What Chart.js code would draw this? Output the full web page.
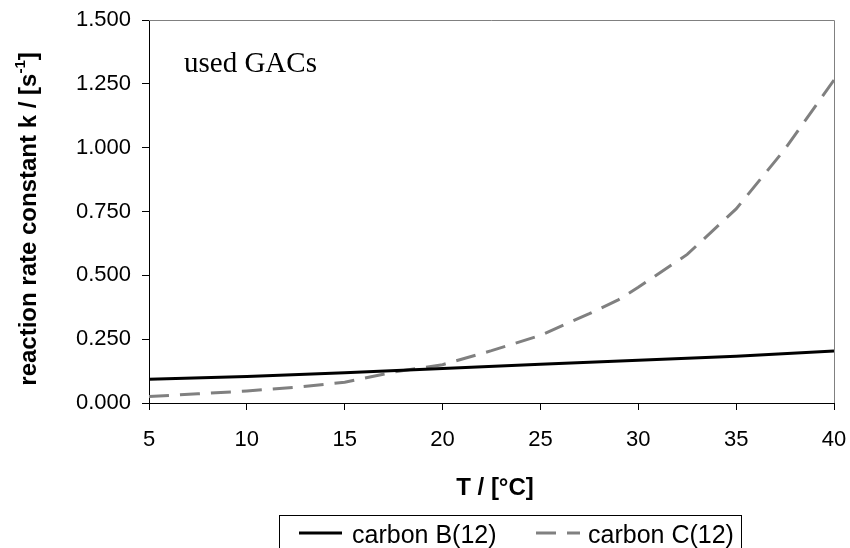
<!DOCTYPE html>
<html>
<head>
<meta charset="utf-8">
<script src="https://cdn.jsdelivr.net/npm/chart.js@4.4.1/dist/chart.umd.min.js"></script>
<style>
  html, body { margin: 0; padding: 0; background: #ffffff; }
  #wrap { width: 850px; height: 548px; position: relative; }
</style>
</head>
<body>
<div id="wrap"><canvas id="c"></canvas></div>
<script>
// ---- data ----
const tempB = [5, 10, 15, 20, 25, 30, 35, 40];
const carbonB = [0.093, 0.104, 0.118, 0.135, 0.152, 0.167, 0.183, 0.204];

const tempC = [5, 7.5, 10, 12.5, 15, 17.5, 20, 22.5, 25, 27.5, 29, 30, 32.5, 35, 37.5, 40];
const carbonC = [0.025, 0.036, 0.047, 0.062, 0.081, 0.121, 0.150, 0.205, 0.265, 0.350, 0.405, 0.453, 0.582, 0.760, 0.995, 1.265];

const seriesLabels = ['carbon B(12)', 'carbon C(12)'];
const yTicksMin = 0, yTicksMax = 1.5, yStep = 0.25;
const xTicksMin = 5, xTicksMax = 40, xStep = 5;
const xTitle = 'T / [°C]';
const yTitleMain = 'reaction rate constant k / [s';
const yTitleSup = '-1';
const yTitleEnd = ']';
const annotation = 'used GACs';

const toXY = (xs, ys) => xs.map((x, i) => ({ x: x, y: ys[i] }));

const FONT = "'Liberation Sans', Arial, sans-serif";

const decorPlugin = {
  id: 'decor',
  afterDraw(chart) {
    const ctx = chart.ctx;
    const a = chart.chartArea;
    ctx.save();
    // top & right frame lines (gray)
    ctx.strokeStyle = '#808080';
    ctx.lineWidth = 1;
    ctx.beginPath();
    ctx.moveTo(a.left, a.top + 0.5);
    ctx.lineTo(a.right + 0.5, a.top + 0.5);
    ctx.lineTo(a.right + 0.5, a.bottom);
    ctx.stroke();

    // annotation
    ctx.fillStyle = '#000';
    ctx.font = "29px 'Liberation Serif', 'Times New Roman', serif";
    ctx.textAlign = 'left';
    ctx.textBaseline = 'alphabetic';
    ctx.fillText(annotation, 184, 72);

    // x title
    ctx.font = 'bold 24px ' + FONT;
    ctx.textAlign = 'center';
    ctx.textBaseline = 'middle';
    ctx.fillText(xTitle, 495, 488);

    // y title with superscript
    ctx.save();
    ctx.translate(29, 219);
    ctx.rotate(-Math.PI / 2);
    ctx.textAlign = 'left';
    ctx.textBaseline = 'middle';
    const fMain = 'bold 24px ' + FONT;
    const fSup = 'bold 15px ' + FONT;
    ctx.font = fMain;
    const w1 = ctx.measureText(yTitleMain).width;
    const w3 = ctx.measureText(yTitleEnd).width;
    ctx.font = fSup;
    const w2 = ctx.measureText(yTitleSup).width;
    const total = w1 + w2 + w3;
    let x0 = -total / 2;
    ctx.font = fMain;
    ctx.fillText(yTitleMain, x0, 0);
    ctx.font = fSup;
    ctx.fillText(yTitleSup, x0 + w1, -8);
    ctx.font = fMain;
    ctx.fillText(yTitleEnd, x0 + w1 + w2, 0);
    ctx.restore();

    // legend box
    ctx.strokeStyle = '#000';
    ctx.lineWidth = 1;
    ctx.strokeRect(279.5, 515.5, 462, 60);
    const ds = chart.data.datasets;
    const items = [
      { x1: 299, x2: 342, tx: 352 },
      { x1: 536, x2: 580, tx: 588 }
    ];
    ctx.font = '25px ' + FONT;
    ctx.textAlign = 'left';
    ctx.textBaseline = 'alphabetic';
    items.forEach((it, i) => {
      const d = ds[i];
      ctx.save();
      ctx.strokeStyle = d.borderColor;
      ctx.lineWidth = d.borderWidth;
      ctx.setLineDash(d.borderDash || []);
      ctx.beginPath();
      ctx.moveTo(it.x1, 533);
      ctx.lineTo(it.x2, 533);
      ctx.stroke();
      ctx.restore();
      ctx.fillStyle = '#000';
      ctx.fillText(d.label, it.tx, 543);
    });
    ctx.restore();
  }
};

new Chart(document.getElementById('c'), {
  type: 'line',
  data: {
    datasets: [
      {
        label: seriesLabels[0],
        data: toXY(tempB, carbonB),
        borderColor: '#000000',
        borderWidth: 3,
        pointRadius: 0,
        tension: 0,
        fill: false
      },
      {
        label: seriesLabels[1],
        data: toXY(tempC, carbonC),
        borderColor: '#808080',
        borderWidth: 3,
        borderDash: [20, 11],
        pointRadius: 0,
        tension: 0,
        fill: false
      }
    ]
  },
  options: {
    responsive: true,
    maintainAspectRatio: false,
    animation: false,
    layout: { padding: { top: 20, right: 16, bottom: 0, left: 0 } },
    plugins: {
      legend: { display: false },
      tooltip: { enabled: false }
    },
    scales: {
      x: {
        type: 'linear',
        min: xTicksMin,
        max: xTicksMax,
        afterFit(scale) { scale.height = 145; scale.paddingRight = 0; scale.paddingLeft = 0; },
        border: { display: true, color: '#000', width: 1 },
        grid: { display: true, drawOnChartArea: false, drawTicks: true, tickLength: 7, tickColor: '#000' },
        ticks: {
          stepSize: xStep,
          padding: 17,
          color: '#000',
          font: { family: FONT, size: 22 },
          maxRotation: 0
        }
      },
      y: {
        type: 'linear',
        min: yTicksMin,
        max: yTicksMax,
        afterFit(scale) { scale.width = 149; scale.paddingTop = 0; scale.paddingBottom = 0; },
        border: { display: true, color: '#000', width: 1 },
        grid: { display: true, drawOnChartArea: false, drawTicks: true, tickLength: 7, tickColor: '#000' },
        ticks: {
          stepSize: yStep,
          padding: 11,
          color: '#000',
          font: { family: FONT, size: 22 },
          callback: v => Number(v).toFixed(3)
        }
      }
    }
  },
  plugins: [decorPlugin]
});
</script>
</body>
</html>
